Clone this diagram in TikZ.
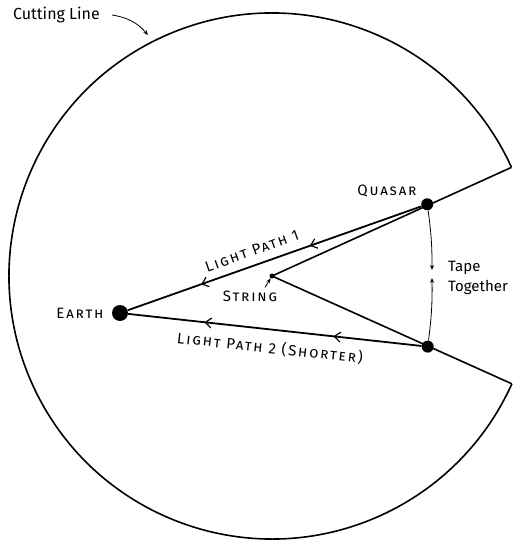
\documentclass[tikz,border=0pt]{standalone}
\usepackage{fontspec}
\setmainfont{Fira Sans}
\newfontfamily\tagfont[LetterSpace=12]{Fira Sans}
\usetikzlibrary{arrows.meta, calc, positioning, decorations.markings}

\tikzset{chev/.tip={Straight Barb[length=6pt, width=10pt, line width=1.2pt]}}

\begin{document}
\begin{tikzpicture}[
    x=1pt, y=1pt,
    font=\fontsize{16}{19}\selectfont,
    tag/.style={font=\fontsize{15}{18}\selectfont\tagfont\scshape, inner sep=0pt},
    dot/.style={circle, fill=black, inner sep=0pt, minimum size=#1},
    cut/.style={line width=1.6pt},
    ray/.style={line width=1.6pt},
    light/.style 2 args={
        line width=1.8pt, postaction={decorate},
        decoration={markings,
            mark=at position #1 with {\arrow{chev}},
            mark=at position #2 with {\arrow{chev}}}
    },
    tape/.style={
        -{Stealth[length=5pt, width=4pt]}, line width=0.8pt
    },
    pointer/.style={
        -{Stealth[length=5pt, width=4pt]}, line width=0.8pt
    }
]
\useasboundingbox (-272,-265) rectangle (240,276);

% the cut-out disc
\coordinate (cutA) at (24.4:263);
\coordinate (cutB) at (-24.2:263);
\draw[cut] (cutA) arc[start angle=24.4, end angle=335.8, radius=263];

\node[dot=5pt] (string) at (0,0) {};
\node[dot=12pt] (quasar) at (24.8:171) {};
\node[dot=12pt] (qimage) at (-24.4:171) {};
\node[dot=16pt] (earth) at (-152,-37) {};

\draw[ray] (string.center) -- (cutA);
\draw[ray] (string.center) -- (cutB);

\draw[light={0.38}{0.75}] (quasar) -- (earth);
\draw[light={0.30}{0.74}] (qimage) -- (earth);

\coordinate (tapeA) at (160,6);
\coordinate (tapeB) at (160,-2);
\draw[tape] (quasar) to[bend left=4] (tapeA);
\draw[tape] (qimage) to[bend right=4] (tapeB);

% labels
\node[tag] (quasarlbl) at (115,85) {Quasar};
\node[tag] (earthlbl) at (-192,-37) {Earth};
\node[tag] (stringlbl) at (-22,-20) {String};
\draw[pointer] ([xshift=15pt, yshift=3pt]stringlbl.north) -- (string);

\node[tag, rotate=19.7] (path1lbl) at (-20,25) {Light Path 1};
\node[tag, rotate=-6.2] (path2lbl) at (-2,-72) {Light Path 2 (Shorter)};

\node[align=left, anchor=west, inner sep=0pt, font=\fontsize{15}{20}\selectfont]
    (tapelbl) at (176,-2) {Tape\\Together};

\node[anchor=west, inner sep=0pt] (cutlbl) at (-259,261) {Cutting Line};
\coordinate (cutpt) at (-124,241);
\draw[pointer] ([xshift=12pt]cutlbl.east) to[bend left=20] (cutpt);
\end{tikzpicture}
\end{document}
